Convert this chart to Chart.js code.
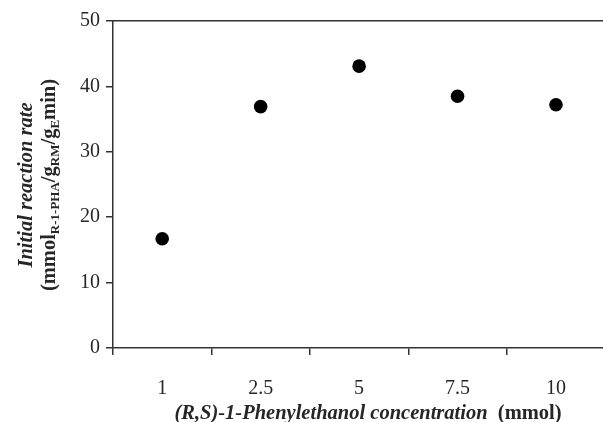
<!DOCTYPE html>
<html>
<head>
<meta charset="utf-8">
<script src="https://cdn.jsdelivr.net/npm/chart.js@4/dist/chart.umd.min.js"></script>
<style>
html,body{margin:0;padding:0;background:#fff;overflow:hidden;width:603px;height:422px;}
canvas{display:block;}
</style>
</head>
<body>
<canvas id="c" width="612" height="422"></canvas>
<script>
// Data
const categories = ["1", "2.5", "5", "7.5", "10"];
const rateValues = [16.7, 36.9, 43.1, 38.5, 37.2];
const yTicks = [0, 10, 20, 30, 40, 50];

const serif = "'Liberation Serif','Times New Roman',Times,serif";
const INK = '#262626';

const titlePlugin = {
  id: 'titles',
  afterDraw(chart) {
    const ctx = chart.ctx;
    ctx.save();
    ctx.fillStyle = INK;
    ctx.textBaseline = 'alphabetic';
    // X axis title (mixed styles)
    const xRuns = [
      {t: '(R,S)-1-Phenylethanol concentration', f: 'italic bold 20.5px ' + serif},
      {t: '  (mmol)', f: 'bold 20.5px ' + serif}
    ];
    let w = 0;
    xRuns.forEach(r => { ctx.font = r.f; r.w = ctx.measureText(r.t).width; w += r.w; });
    let x = 368 - w / 2;
    xRuns.forEach(r => { ctx.font = r.f; ctx.textAlign = 'left'; ctx.fillText(r.t, x, 419); x += r.w; });

    // Y axis title, rotated
    const cy = 185;
    ctx.save();
    ctx.translate(32, cy);
    ctx.rotate(-Math.PI / 2);
    ctx.font = 'italic bold 20.5px ' + serif;
    ctx.textAlign = 'center';
    ctx.fillText('Initial reaction rate', 0, 0);
    ctx.restore();

    const main = 'bold 20.5px ' + serif, sub = 'bold 13px ' + serif;
    const runs = [
      {t: '(mmol', f: main, d: 0},
      {t: 'R-1-PHA', f: sub, d: 4},
      {t: '/g', f: main, d: 0},
      {t: 'RM', f: sub, d: 4},
      {t: '/g', f: main, d: 0},
      {t: 'E', f: sub, d: 4},
      {t: 'min)', f: main, d: 0}
    ];
    let tw = 0;
    runs.forEach(r => { ctx.font = r.f; r.w = ctx.measureText(r.t).width; tw += r.w; });
    ctx.save();
    ctx.translate(55, cy);
    ctx.rotate(-Math.PI / 2);
    ctx.textAlign = 'left';
    let px = -tw / 2;
    runs.forEach(r => { ctx.font = r.f; ctx.fillText(r.t, px, r.d); px += r.w; });
    ctx.restore();
    ctx.restore();
  }
};

new Chart(document.getElementById('c'), {
  type: 'line',
  data: {
    labels: categories,
    datasets: [{
      data: rateValues,
      showLine: false,
      pointRadius: 6.8,
      pointHoverRadius: 6.8,
      pointBackgroundColor: '#000',
      pointBorderColor: '#000',
      pointBorderWidth: 0
    }]
  },
  options: {
    responsive: false,
    animation: false,
    events: [],
    layout: {padding: 0},
    plugins: {legend: {display: false}, tooltip: {enabled: false}},
    scales: {
      x: {
        type: 'category',
        position: 'bottom',
        offset: true,
        grid: {offset: true, drawOnChartArea: false, drawTicks: true, tickLength: 7, color: '#333', lineWidth: 1.5},
        border: {display: true, color: '#333', width: 1.5},
        ticks: {color: INK, font: {family: serif, size: 20}, padding: 22, maxRotation: 0},
        afterFit(s) { s.height = 74; }
      },
      x2: {
        type: 'category',
        position: 'top',
        labels: categories,
        offset: true,
        grid: {display: false},
        border: {display: true, color: '#333', width: 1.5},
        ticks: {display: false},
        afterFit(s) { s.height = 21; }
      },
      y: {
        min: 0,
        max: 50,
        afterBuildTicks(s) { s.ticks = yTicks.map(v => ({value: v})); },
        grid: {drawOnChartArea: false, drawTicks: true, tickLength: 7, color: '#333', lineWidth: 1.5},
        border: {display: true, color: '#333', width: 1.5},
        ticks: {color: INK, font: {family: serif, size: 20}, padding: 6},
        afterFit(s) { s.width = 113; }
      }
    }
  },
  plugins: [titlePlugin]
});
</script>
</body>
</html>
